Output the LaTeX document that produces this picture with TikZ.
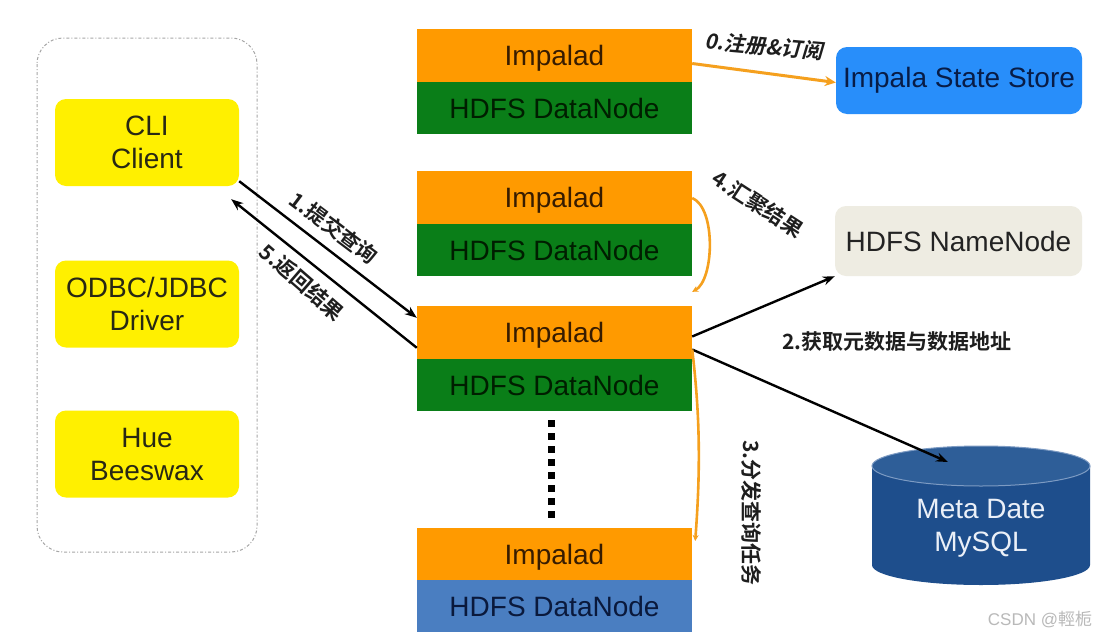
\documentclass[tikz,border=0pt]{standalone}
\usepackage{fontspec}
\setmainfont{Liberation Sans}
\newfontfamily\cjk{Noto Sans CJK SC Bold}
\newfontfamily\cjkslant{Noto Sans CJK SC Bold}[FakeSlant=0.2]
\newfontfamily\cjklight{Noto Sans CJK SC}
\usetikzlibrary{arrows.meta,calc}
\definecolor{impor}{RGB}{255,154,0}
\definecolor{dngreen}{RGB}{10,126,24}
\definecolor{dnblue}{RGB}{74,126,193}
\definecolor{cliyel}{RGB}{255,240,0}
\definecolor{ssblue}{RGB}{40,142,250}
\definecolor{nnbeige}{RGB}{238,236,226}
\definecolor{dbbody}{RGB}{30,78,140}
\definecolor{dbtopc}{RGB}{46,94,152}
\definecolor{dbedge}{RGB}{125,155,195}
\definecolor{lbl}{RGB}{30,30,30}
\definecolor{orline}{RGB}{245,160,30}
\tikzset{
  base/.style={inner sep=0pt, font=\fontsize{28}{33}\selectfont, align=center},
  impbox/.style={base, fill=impor, minimum width=275pt, minimum height=53pt, text depth=0pt, text={rgb,255:red,55;green,28;blue,0}},
  dnbox/.style={base, fill=dngreen, minimum width=275pt, minimum height=52pt, text={rgb,255:red,0;green,30;blue,0}},
  dnbluebox/.style={base, fill=dnblue, minimum width=275pt, minimum height=52pt, text={rgb,255:red,10;green,25;blue,60}},
  clibox/.style={base, fill=cliyel, rounded corners=11pt, minimum width=184pt, minimum height=87pt, text={rgb,255:red,40;green,40;blue,20}},
  ssbox/.style={base, fill=ssblue, rounded corners=11pt, minimum width=246pt, minimum height=67pt, text={rgb,255:red,8;green,28;blue,70}},
  nnbox/.style={base, fill=nnbeige, rounded corners=11pt, minimum width=247pt, minimum height=70pt, text={rgb,255:red,35;green,35;blue,35}},
  blackarrow/.style={line width=2.4pt, -{Stealth[length=12pt,width=9pt]}},
  orangearrow/.style={line width=3pt, orline, -{Stealth[length=11pt,width=10pt]}},
  orangecurve/.style={line width=2.6pt, orline},
  lab/.style={inner sep=0pt, text=lbl, font=\cjk\fontsize{21}{24}\selectfont}
}
\begin{document}
\begin{tikzpicture}[x=1pt,y=-1pt]
\useasboundingbox[fill=white] (0,0) rectangle (1108,640);

% client container
\draw[gray!70, line width=1pt, dash pattern=on 3pt off 2pt on 1pt off 2pt, rounded corners=26pt] (37,38) rectangle (257,552);
\node[clibox] (cli) at (147,142.5) {CLI\\Client};
\node[clibox] (odbc) at (147,304) {ODBC/JDBC\\Driver};
\node[clibox] (hue) at (147,454) {Hue\\Beeswax};

% impalad stacks
\node[impbox] (i1) at (554.5,55.5) {Impalad};
\node[dnbox] (d1) at (554.5,108) {HDFS DataNode};
\node[impbox] (i2) at (554.5,197.5) {Impalad};
\node[dnbox] (d2) at (554.5,250) {HDFS DataNode};
\node[impbox] (i3) at (554.5,332.5) {Impalad};
\node[dnbox] (d3) at (554.5,385) {HDFS DataNode};
\node[impbox] (i4) at (554.5,554) {Impalad};
\node[dnbluebox] (d4) at (554.5,606) {HDFS DataNode};

% dots
\foreach \k in {0,...,7} {
  \fill (548,{420+\k*13}) rectangle (554.5,{426.5+\k*13});
}

% right side services
\node[ssbox] (ss) at (959,80.5) {Impala State Store};
\node[nnbox] (nn) at (958.5,241) {HDFS NameNode};

% cylinder
\fill[dbbody] (872,466) -- (872,565) arc[start angle=180, end angle=360, x radius=109pt, y radius=20pt] -- (1090,466) -- cycle;
\filldraw[fill=dbtopc, draw=dbedge, line width=1pt] (981,466) ellipse[x radius=109pt, y radius=20pt];
\node[base, text={rgb,255:red,235;green,240;blue,248}] (db) at (981,528) {Meta Date\\MySQL};
\coordinate (dbtop) at (948,462);

% arrows
\draw[orangearrow] ([yshift=-8pt]i1.east) -- ([yshift=-2pt]ss.west);
\node[lab, font=\cjkslant\fontsize{21}{24}\selectfont, rotate=-5] (l0) at (764,46) {0.注册\&订阅};

\draw[blackarrow] ([yshift=5pt]cli.south east) -- ([yshift=-12pt]i3.north west);
\draw[blackarrow] ([yshift=-42pt]i3.north west) -- ([xshift=-8pt,yshift=-13pt]cli.south east);
\node[lab, rotate=-37] (l1) at (334,228) {1.提交查询};
\node[lab, rotate=-41] (l5) at (302,282) {5.返回结果};

\draw[blackarrow] ([yshift=-4pt]i3.east) -- (nn.south west);
\draw[blackarrow] ([yshift=-17pt]i3.east) -- (dbtop);
\node[lab] (l2) at (897,342) {2.获取元数据与数据地址};

\draw[orangecurve, -{Stealth[length=6pt,width=6pt]}] ([yshift=-0.5pt]i2.east) .. controls +(24,10) and +(22,-12) .. ([yshift=14pt]i3.north east);
\node[lab, rotate=-33] (l4) at (758,204) {4.汇聚结果};

\draw[orangecurve, -{Stealth[length=6pt,width=6pt]}] ([yshift=-17pt]i3.east) .. controls +(7,60) and +(6,-80) .. ([xshift=3pt,yshift=13pt]i4.east);
\node[lab, rotate=-90] (l3) at (752,513) {3.分发查询任务};

% watermark
\node[inner sep=0pt, text=gray!55, font=\fontsize{17}{20}\selectfont] (wm) at (1040,620) {CSDN @{\cjklight 輕栀}};
\end{tikzpicture}
\end{document}
